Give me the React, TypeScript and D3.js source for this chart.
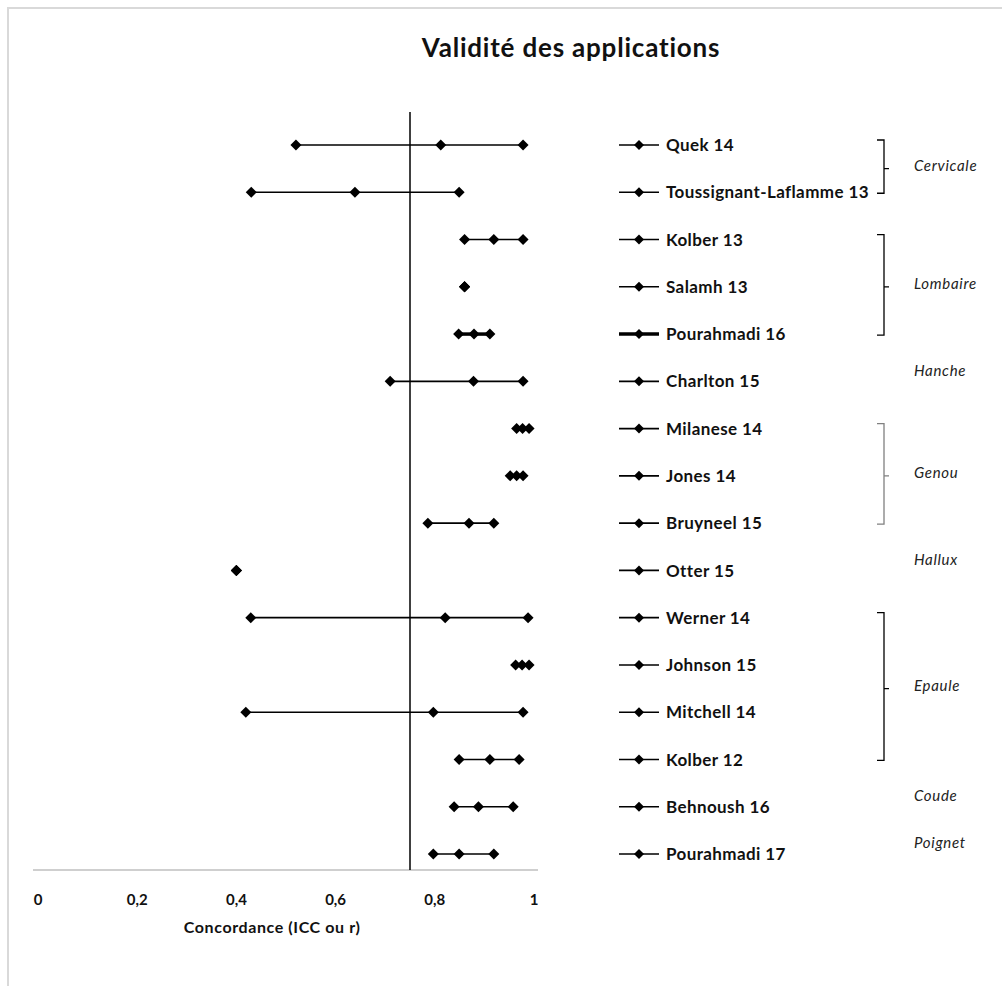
import React, { useRef, useEffect } from 'react';
import * as d3 from 'd3';

// études (ordre de haut en bas)
const studies = [
  'Quek 14',
  'Toussignant-Laflamme 13',
  'Kolber 13',
  'Salamh 13',
  'Pourahmadi 16',
  'Charlton 15',
  'Milanese 14',
  'Jones 14',
  'Bruyneel 15',
  'Otter 15',
  'Werner 14',
  'Johnson 15',
  'Mitchell 14',
  'Kolber 12',
  'Behnoush 16',
  'Pourahmadi 17',
];

// borne basse, valeur centrale, borne haute
const lowValues = [0.52, 0.43, 0.86, 0.86, 0.848, 0.71, 0.965, 0.952, 0.786, 0.40, 0.429, 0.963, 0.419, 0.849, 0.839, 0.797];
const midValues = [0.812, 0.639, 0.919, 0.86, 0.879, 0.878, 0.977, 0.965, 0.869, 0.40, 0.821, 0.976, 0.797, 0.911, 0.888, 0.849];
const highValues = [0.978, 0.849, 0.978, 0.86, 0.911, 0.978, 0.99, 0.978, 0.919, 0.40, 0.988, 0.99, 0.978, 0.97, 0.958, 0.919];

// séries avec trait épais
const thickSeries = ['Pourahmadi 16'];

// régions anatomiques
const regionNames = ['Cervicale', 'Lombaire', 'Hanche', 'Genou', 'Hallux', 'Epaule', 'Coude', 'Poignet'];
const regionFirst = ['Quek 14', 'Kolber 13', 'Charlton 15', 'Milanese 14', 'Otter 15', 'Werner 14', 'Behnoush 16', 'Pourahmadi 17'];
const regionLast = ['Toussignant-Laflamme 13', 'Pourahmadi 16', 'Charlton 15', 'Bruyneel 15', 'Otter 15', 'Kolber 12', 'Behnoush 16', 'Pourahmadi 17'];

const tickValues = [0, 0.2, 0.4, 0.6, 0.8, 1];
const tickLabels = ['0', '0,2', '0,4', '0,6', '0,8', '1'];
const threshold = 0.75;

const title = 'Validité des applications';
const axisTitle = 'Concordance (ICC ou r)';

const W = 1002;
const H = 986;

const diamond = (cx: number, cy: number, r = 5) =>
  `M${cx},${cy - r}L${cx + r},${cy}L${cx},${cy + r}L${cx - r},${cy}Z`;

const App = () => {
  const ref = useRef<SVGSVGElement | null>(null);

  useEffect(() => {
    if (!ref.current) return;
    const svg = d3.select(ref.current);
    svg.selectAll('*').remove();

    const font = 'Lato, "Open Sans", sans-serif';

    const x = d3.scaleLinear().domain([0, 1]).range([38, 534]);
    const y = d3.scalePoint<string>().domain(studies).range([145, 854]);
    const axisY = 870;

    // cadre
    svg.append('rect')
      .attr('x', 8).attr('y', 8)
      .attr('width', W + 20).attr('height', H + 20)
      .attr('fill', 'none')
      .attr('stroke', '#d9d9d9')
      .attr('stroke-width', 2);

    svg.append('text')
      .attr('x', 571).attr('y', 57)
      .attr('text-anchor', 'middle')
      .attr('font-family', font)
      .attr('font-weight', 700)
      .attr('font-size', 26)
      .attr('letter-spacing', 0.8)
      .attr('fill', '#111')
      .text(title);

    // axe horizontal
    svg.append('line')
      .attr('x1', x(0) - 5).attr('x2', x(1) + 4)
      .attr('y1', axisY).attr('y2', axisY)
      .attr('stroke', '#bfbfbf')
      .attr('stroke-width', 1.5);

    svg.append('g')
      .selectAll('text')
      .data(tickValues)
      .join('text')
      .attr('x', d => x(d))
      .attr('y', axisY + 35)
      .attr('text-anchor', 'middle')
      .attr('font-family', font)
      .attr('font-weight', 700)
      .attr('font-size', 15)
      .attr('fill', '#111')
      .text((d, i) => tickLabels[i]);

    svg.append('text')
      .attr('x', x(0.472)).attr('y', axisY + 63)
      .attr('text-anchor', 'middle')
      .attr('font-family', font)
      .attr('font-weight', 700)
      .attr('font-size', 16)
      .attr('letter-spacing', 0.6)
      .attr('fill', '#111')
      .text(axisTitle);

    // seuil
    svg.append('line')
      .attr('x1', x(threshold)).attr('x2', x(threshold))
      .attr('y1', 112).attr('y2', axisY)
      .attr('stroke', '#000')
      .attr('stroke-width', 1.5);

    // séries
    studies.forEach((s, i) => {
      const cy = y(s) as number;
      const thick = thickSeries.includes(s);
      const vals = [lowValues[i], midValues[i], highValues[i]];
      svg.append('line')
        .attr('x1', x(lowValues[i])).attr('x2', x(highValues[i]))
        .attr('y1', cy).attr('y2', cy)
        .attr('stroke', '#000')
        .attr('stroke-width', thick ? 3.5 : 1.6);
      vals.forEach(v => {
        svg.append('path').attr('d', diamond(x(v), cy, 5.5)).attr('fill', '#000');
      });

      // légende
      svg.append('line')
        .attr('x1', 619).attr('x2', 659)
        .attr('y1', cy).attr('y2', cy)
        .attr('stroke', '#000')
        .attr('stroke-width', thick ? 3.5 : 1.6);
      svg.append('path').attr('d', diamond(639, cy, 5)).attr('fill', '#000');
      svg.append('text')
        .attr('x', 666).attr('y', cy)
        .attr('dy', '0.36em')
        .attr('font-family', font)
        .attr('font-weight', 700)
        .attr('font-size', 17)
        .attr('letter-spacing', 0.4)
        .attr('fill', '#111')
        .text(s);
    });

    // accolades + noms de région
    regionNames.forEach((name, i) => {
      const y0 = y(regionFirst[i]) as number;
      const y1 = y(regionLast[i]) as number;
      const hasBracket = y0 !== y1;
      const mid = (y0 + y1) / 2;
      if (hasBracket) {
        const top = y0 - 5;
        const bot = y1 + 1;
        const col = name === 'Genou' ? '#808080' : '#000';
        const path = d3.path();
        path.moveTo(877, top);
        path.lineTo(884, top);
        path.lineTo(884, bot);
        path.lineTo(877, bot);
        path.moveTo(884, mid);
        path.lineTo(889, mid);
        svg.append('path')
          .attr('d', path.toString())
          .attr('fill', 'none')
          .attr('stroke', col)
          .attr('stroke-width', 1.3);
      }
      svg.append('text')
        .attr('x', 914)
        .attr('y', hasBracket ? mid - 3 : mid - 11)
        .attr('dy', '0.36em')
        .attr('font-family', font)
        .attr('font-style', 'italic')
        .attr('font-size', 15)
        .attr('letter-spacing', 0.7)
        .attr('fill', '#222')
        .text(name);
    });
  }, []);

  return (
    <div style={{ position: 'fixed', left: 0, top: 0, width: W, height: H, background: '#fff' }}>
      <svg ref={ref} width={W} height={H} />
    </div>
  );
};

export default App;
